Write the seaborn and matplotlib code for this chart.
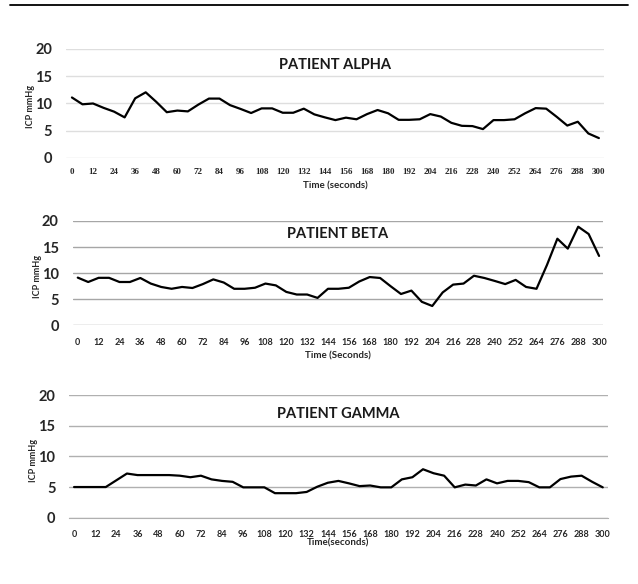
import numpy as np
import pandas as pd
import seaborn as sns
import matplotlib.pyplot as plt
from matplotlib.lines import Line2D
from matplotlib.ticker import FixedLocator

seconds = list(range(0, 301, 6))
xtick_labels = list(range(0, 301, 12))

icp_alpha = [11.1, 9.85, 10.0, 9.2, 8.5, 7.45, 10.95, 12.05, 10.3, 8.4,
             8.7, 8.55, 9.8, 10.9, 10.9, 9.7, 9.0, 8.25, 9.1, 9.1,
             8.3, 8.3, 9.05, 8.0, 7.45, 6.95, 7.4, 7.1, 8.05, 8.8,
             8.2, 7.0, 7.0, 7.1, 8.05, 7.6, 6.45, 5.9, 5.85, 5.3,
             6.95, 6.95, 7.1, 8.2, 9.15, 9.05, 7.55, 5.95, 6.65, 4.5, 3.65]
icp_beta = [9.14, 8.3, 9.1, 9.1, 8.3, 8.3, 9.07, 8.0, 7.35, 7.0,
            7.35, 7.15, 7.9, 8.8, 8.2, 7.0, 7.0, 7.2, 8.0, 7.65,
            6.4, 5.9, 5.9, 5.25, 7.0, 7.0, 7.2, 8.4, 9.25, 9.07,
            7.5, 6.0, 6.65, 4.5, 3.7, 6.3, 7.8, 8.0, 9.5, 9.07,
            8.5, 7.9, 8.7, 7.35, 7.0, 11.55, 16.6, 14.7, 18.9, 17.5, 13.3]
icp_gamma = [5.0, 5.0, 5.0, 5.0, 6.1, 7.2, 6.95, 6.95, 6.95, 6.95,
             6.85, 6.6, 6.85, 6.25, 6.0, 5.85, 4.95, 4.95, 4.95, 4.0,
             4.0, 4.0, 4.2, 5.05, 5.7, 6.0, 5.6, 5.15, 5.25, 4.95,
             4.95, 6.25, 6.6, 7.9, 7.25, 6.85, 4.95, 5.4, 5.25, 6.25,
             5.6, 6.0, 6.0, 5.8, 4.95, 4.95, 6.3, 6.7, 6.85, 5.85, 4.95]

sns.set_style('white')
plt.rcParams['font.family'] = ['Lato', 'DejaVu Sans']

fig = plt.figure(figsize=(6.38, 5.84), dpi=100)

# title, data, xlabel, axes rect, xlim, grid colour, title y, xtick pad, xlabel y
panels = [
    ('PATIENT ALPHA', icp_alpha, 'Time (seconds)', [0.1034, 0.7295, 0.843, 0.1866],
     (-3.4, 302.8), '#dedede', 0.85, 7, -0.215),
    ('PATIENT BETA', icp_beta, 'Time (Seconds)', [0.114, 0.443, 0.8307, 0.1786],
     (-2.9, 302.1), '#a6a6a6', 0.875, 9, -0.25),
    ('PATIENT GAMMA', icp_gamma, 'Time(seconds)', [0.1086, 0.1135, 0.8439, 0.2101],
     (-2.7, 302.8), '#b0b0b0', 0.845, 9, -0.172),
]

for title, vals, xlab, rect, xlim, gcol, ty, xpad, label_y in panels:
    ax = fig.add_axes(rect)
    df = pd.DataFrame({'t': seconds, 'icp': vals})
    sns.lineplot(data=df, x='t', y='icp', ax=ax, color='black', linewidth=1.6)
    ax.set_xlim(*xlim)
    ax.set_ylim(0, 20)
    ax.set_yticks([0, 5, 10, 15, 20])
    ax.set_xticks(xtick_labels)
    ax.grid(axis='y', color=gcol, linewidth=1.0)
    ax.grid(axis='x', visible=False)
    ax.set_axisbelow(True)
    for s in ax.spines.values():
        s.set_visible(False)
    ax.tick_params(axis='y', length=0, pad=10, labelsize=10.5)
    ax.tick_params(axis='x', length=0, pad=xpad, labelsize=6.5)
    for lab in ax.get_yticklabels():
        lab.set_fontweight('bold')
    for lab in ax.get_xticklabels():
        lab.set_fontweight('bold')
        if title == 'PATIENT ALPHA':
            lab.set_family(['Liberation Serif', 'DejaVu Serif'])
    ax.set_ylabel('ICP mmHg', fontsize=6.5, fontweight='bold')
    ax.yaxis.set_label_coords(-0.058, 0.47)
    ax.set_xlabel(xlab, fontsize=7, fontweight='bold')
    ax.xaxis.set_label_coords(0.5, label_y)
    ax.text(0.5, ty, title, transform=ax.transAxes, ha='center', va='center',
            fontsize=10.5, fontweight='bold', color='#1a1a1a')
    if title == 'PATIENT GAMMA':
        ax.spines['bottom'].set_visible(True)
        ax.spines['bottom'].set_color('#b0b0b0')
        ax.xaxis.set_minor_locator(FixedLocator(np.arange(-2.7, 300, 30)))
        ax.tick_params(axis='x', which='minor', length=4, color='#b0b0b0', direction='out')

fig.add_artist(Line2D([0.016, 0.985], [0.992, 0.992], color='black', linewidth=1.3))

fig.savefig('out.png', dpi=100)
